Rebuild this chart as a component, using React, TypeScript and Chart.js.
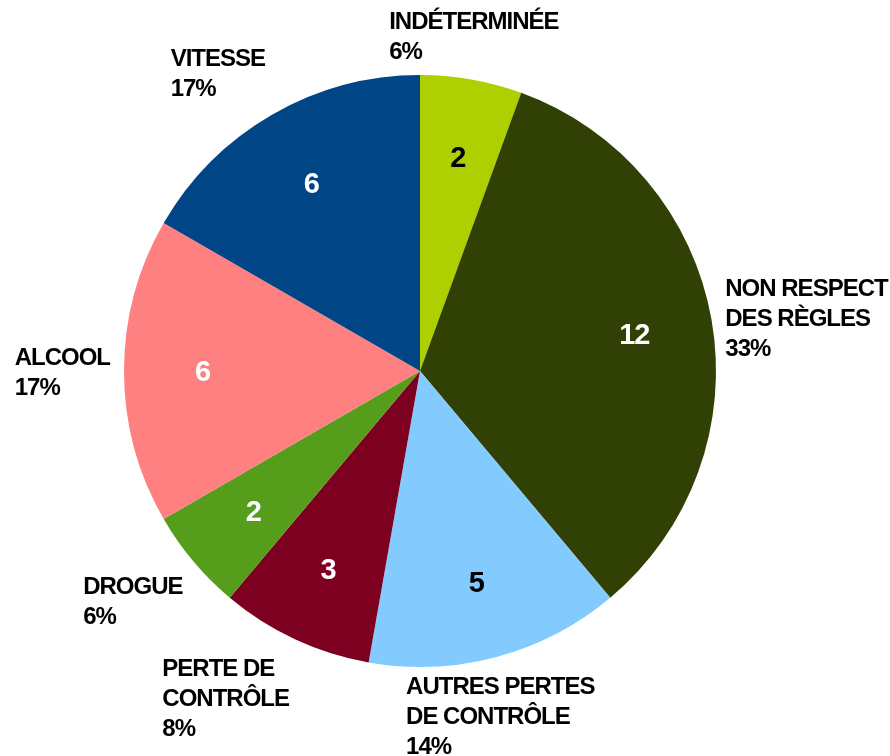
import React, { useEffect, useRef } from "react";
import { Chart, registerables } from "chart.js";

Chart.register(...registerables);

// ---- data ----
const categories: string[][] = [
  ["INDÉTERMINÉE"],
  ["NON RESPECT", "DES RÈGLES"],
  ["AUTRES PERTES", "DE CONTRÔLE"],
  ["PERTE DE", "CONTRÔLE"],
  ["DROGUE"],
  ["ALCOOL"],
  ["VITESSE"],
];
const values: number[] = [2, 12, 5, 3, 2, 6, 6];
const colors: string[] = [
  "#aecf00",
  "#314004",
  "#83caff",
  "#7e0021",
  "#579d1c",
  "#ff8080",
  "#004586",
];

const FONT_FAMILY = '"Liberation Sans", Arial, sans-serif';
const LABEL_SIZE = 24;
const LINE_H = 30;
const VALUE_SIZE = 29;

function textColorFor(hex: string): string {
  const h = hex.replace("#", "");
  const lin = (v: number) => {
    const c = v / 255;
    return c <= 0.04045 ? c / 12.92 : Math.pow((c + 0.055) / 1.055, 2.4);
  };
  const r = lin(parseInt(h.slice(0, 2), 16));
  const g = lin(parseInt(h.slice(2, 4), 16));
  const b = lin(parseInt(h.slice(4, 6), 16));
  const L = 0.2126 * r + 0.7152 * g + 0.0722 * b;
  return L > 0.45 ? "#000000" : "#ffffff";
}

type Box = { l: number; t: number; r: number; b: number };

const sliceLabels = {
  id: "sliceLabels",
  afterDatasetsDraw(chart: any) {
    const ctx: CanvasRenderingContext2D = chart.ctx;
    const meta = chart.getDatasetMeta(0);
    const data = chart.data.datasets[0].data as number[];
    const labels = chart.data.labels as string[][];
    const bg = chart.data.datasets[0].backgroundColor as string[];
    const total = data.reduce((a, b) => a + b, 0);
    ctx.save();
    (ctx as any).letterSpacing = "-1px";
    ctx.textAlign = "center";
    ctx.textBaseline = "alphabetic";

    // values inside slices
    ctx.font = `bold ${VALUE_SIZE}px ${FONT_FAMILY}`;
    meta.data.forEach((arc: any, i: number) => {
      const p = arc.getProps(["x", "y", "startAngle", "endAngle", "outerRadius"], true);
      const mid = (p.startAngle + p.endAngle) / 2;
      const r = p.outerRadius * 0.735;
      ctx.fillStyle = textColorFor(bg[i]);
      ctx.fillText(
        String(data[i]),
        p.x + r * Math.cos(mid),
        p.y + r * Math.sin(mid) + VALUE_SIZE * 0.358
      );
    });

    // category labels outside
    ctx.font = `bold ${LABEL_SIZE}px ${FONT_FAMILY}`;
    ctx.fillStyle = "#000000";
    ctx.textAlign = "left";
    const placed: Box[] = [];
    const pad = 10;
    meta.data.forEach((arc: any, i: number) => {
      const p = arc.getProps(["x", "y", "startAngle", "endAngle", "outerRadius"], true);
      const pct = Math.round((data[i] / total) * 100) + "%";
      const lines = [...labels[i], pct];
      const w = Math.max(...lines.map((s) => ctx.measureText(s).width));
      const h = lines.length * LINE_H;
      const rl = p.outerRadius + 14;
      const boxAt = (ang: number): Box => {
        const dx = Math.cos(ang);
        const dy = Math.sin(ang);
        const px = p.x + rl * dx;
        const py = p.y + rl * dy;
        let l: number;
        if (dx > 0.38) l = px;
        else if (dx < -0.38) l = px - w;
        else l = px - w / 2;
        let t: number;
        if (dy < -0.38) t = py - h;
        else if (dy > 0.38) t = py;
        else t = py - h / 2;
        return { l, t, r: l + w, b: t + h };
      };
      const overlaps = (bx: Box) =>
        placed.some(
          (o) =>
            bx.l < o.r + pad &&
            bx.r > o.l - pad &&
            bx.t < o.b + pad &&
            bx.b > o.t - pad
        );
      let ang = (p.startAngle + p.endAngle) / 2;
      let box = boxAt(ang);
      let steps = 0;
      while (overlaps(box) && steps < 120) {
        ang += (0.5 * Math.PI) / 180;
        box = boxAt(ang);
        steps++;
      }
      placed.push(box);
      lines.forEach((s, k) => {
        const cy = box.t + LINE_H / 2 + k * LINE_H;
        ctx.fillText(s, box.l, cy + LABEL_SIZE * 0.358);
      });
    });
    ctx.restore();
  },
};

export default function App() {
  const ref = useRef<HTMLCanvasElement | null>(null);
  useEffect(() => {
    if (!ref.current) return;
    const chart = new Chart(ref.current, {
      type: "pie",
      data: {
        labels: categories as any,
        datasets: [
          {
            data: values,
            backgroundColor: colors,
            borderWidth: 0,
          },
        ],
      },
      options: {
        animation: false,
        responsive: false,
        maintainAspectRatio: false,
        layout: { padding: { left: 124, right: 174, top: 75, bottom: 89 } },
        plugins: {
          legend: { display: false },
          tooltip: { enabled: false },
        },
      },
      plugins: [sliceLabels],
    });
    return () => chart.destroy();
  }, []);
  return (
    <div style={{ position: "absolute", left: 0, top: 0, width: 890, height: 756, background: "#ffffff" }}>
      <canvas ref={ref} width={890} height={756} style={{ display: "block" }} />
    </div>
  );
}
